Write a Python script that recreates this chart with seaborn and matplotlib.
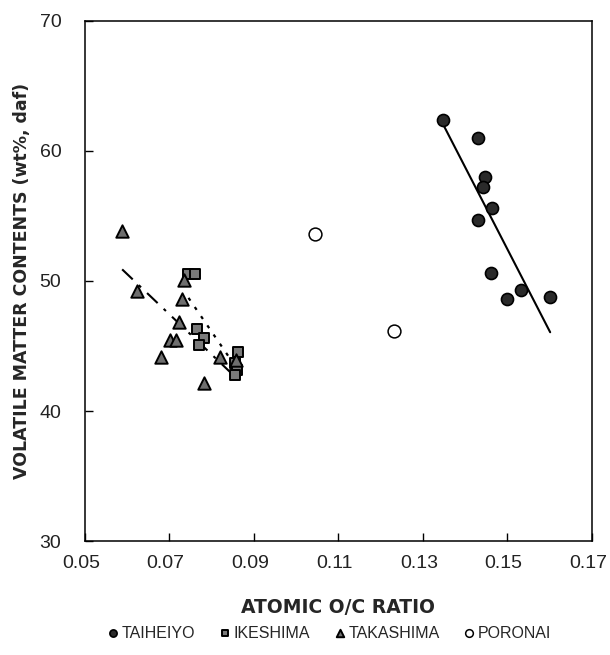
import matplotlib
matplotlib.use("Agg")
import matplotlib.pyplot as plt
import matplotlib.transforms as mtransforms
import seaborn as sns
import pandas as pd

# Atomic O/C ratio and volatile matter (wt%, daf) by coal field
taiheiyo_oc = [0.1348, 0.1429, 0.1447, 0.1443, 0.1463, 0.1429, 0.1461, 0.1531, 0.1500, 0.1601]
taiheiyo_vm = [62.38, 61.0, 58.0, 57.25, 55.6, 54.7, 50.64, 49.3, 48.6, 48.8]

ikeshima_oc = [0.0745, 0.0760, 0.0766, 0.0782, 0.0771, 0.0863, 0.0855, 0.0859, 0.0855]
ikeshima_vm = [50.5, 50.5, 46.28, 45.6, 45.08, 44.56, 43.67, 43.15, 42.8]

takashima_oc = [0.0588, 0.0622, 0.0729, 0.0722, 0.0701, 0.0715, 0.0680, 0.0734, 0.0820, 0.0857, 0.0782]
takashima_vm = [53.87, 49.2, 48.6, 46.87, 45.5, 45.5, 44.13, 50.1, 44.18, 43.9, 42.18]

poronai_oc = [0.1045, 0.1231]
poronai_vm = [53.6, 46.15]

x_ticks = [0.05, 0.07, 0.09, 0.11, 0.13, 0.15, 0.17]
y_ticks = [30, 40, 50, 60, 70]

sns.set_theme(style="white")
plt.rcParams["font.family"] = ["Liberation Sans", "DejaVu Sans"]

fig = plt.figure(figsize=(6.10, 6.55), dpi=100)
ax = fig.add_axes([0.1393, 0.174, 0.8312, 0.794])

tai = pd.DataFrame({"oc": taiheiyo_oc, "vm": taiheiyo_vm})
ike = pd.DataFrame({"oc": ikeshima_oc, "vm": ikeshima_vm})
tak = pd.DataFrame({"oc": takashima_oc, "vm": takashima_vm})
por = pd.DataFrame({"oc": poronai_oc, "vm": poronai_vm})

# linear trend lines over each field's data range
sns.regplot(data=tai, x="oc", y="vm", scatter=False, ci=None, truncate=True, ax=ax,
            line_kws=dict(color="black", lw=1.5, ls="-"))
sns.regplot(data=ike, x="oc", y="vm", scatter=False, ci=None, truncate=True, ax=ax,
            line_kws=dict(color="black", lw=1.6, ls=(0, (1.5, 3.5))))
sns.regplot(data=tak, x="oc", y="vm", scatter=False, ci=None, truncate=True, ax=ax,
            line_kws=dict(color="black", lw=1.5, ls=(0, (7, 4, 1.5, 4))))

sns.scatterplot(data=tai, x="oc", y="vm", ax=ax, marker="o", s=75,
                color="#2a2a2a", edgecolor="black", linewidth=1.2, label="TAIHEIYO", zorder=3)
sns.scatterplot(data=ike, x="oc", y="vm", ax=ax, marker="s", s=60,
                color="#7a7a7a", edgecolor="black", linewidth=1.4, label="IKESHIMA", zorder=3)
sns.scatterplot(data=tak, x="oc", y="vm", ax=ax, marker="^", s=80,
                color="#6e6e6e", edgecolor="black", linewidth=1.4, label="TAKASHIMA", zorder=3)
sns.scatterplot(data=por, x="oc", y="vm", ax=ax, marker="o", s=85,
                color="white", edgecolor="black", linewidth=1.1, label="PORONAI", zorder=3)

ax.set_xlim(0.05, 0.17)
ax.set_ylim(30, 70)
ax.set_xticks(x_ticks)
ax.set_yticks(y_ticks)
ax.set_xticklabels([f"{v:.2f}" for v in x_ticks])
ax.set_yticklabels([str(v) for v in y_ticks])
ax.tick_params(axis="both", direction="in", length=6, width=1, color="black",
               labelsize=14, labelcolor="#222222", bottom=True, left=True)
ax.tick_params(axis="x", pad=10)
ax.tick_params(axis="y", pad=17)
shift = mtransforms.ScaledTranslation(-4 / 100, 0, fig.dpi_scale_trans)
for lab in ax.get_xticklabels():
    lab.set_transform(lab.get_transform() + shift)
for sp in ax.spines.values():
    sp.set_color("black")
    sp.set_linewidth(1.1)

ax.set_xlabel("ATOMIC O/C RATIO", fontsize=13.5, fontweight="bold",
              family="DejaVu Sans", labelpad=19)
ax.set_ylabel("VOLATILE MATTER CONTENTS (wt%, daf)", fontsize=12.5, fontweight="bold",
              family="DejaVu Sans", labelpad=6)

handles, labels = ax.get_legend_handles_labels()
ax.get_legend().remove()
fig.legend(handles, labels, loc="lower center", bbox_to_anchor=(0.54, 0.0), ncol=4,
           frameon=False, fontsize=11.5, markerscale=0.6, handlelength=0.7,
           handletextpad=0.2, columnspacing=1.5, borderaxespad=0.5)

fig.savefig("out.png", dpi=100)
